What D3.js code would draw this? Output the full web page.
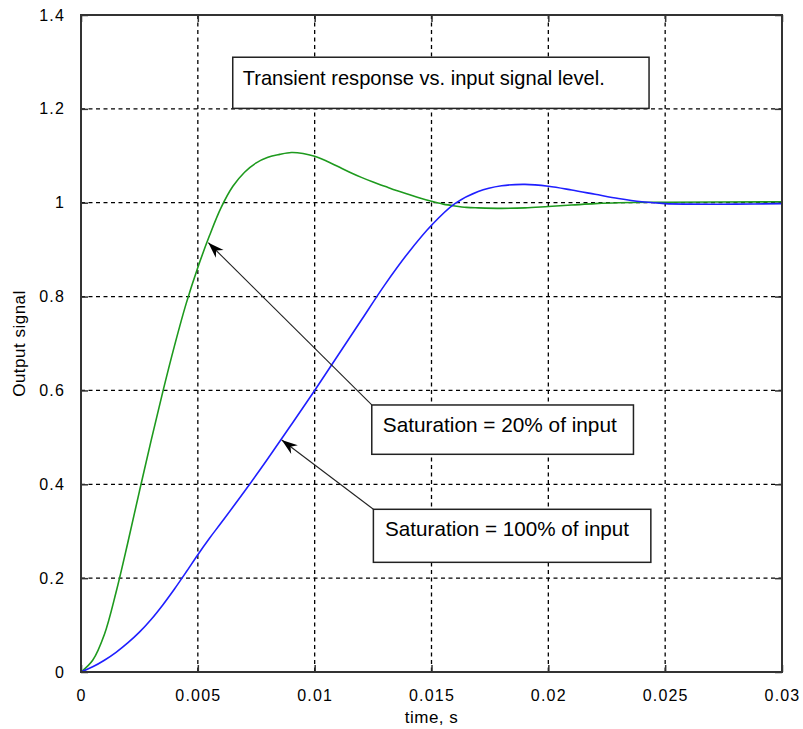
<!DOCTYPE html>
<html><head><meta charset="utf-8">
<script src="https://cdn.jsdelivr.net/npm/d3@7"></script>
<style>
body{margin:0;background:#fff}
text{font-family:"Liberation Sans",Arial,Helvetica,sans-serif;fill:#000}
</style>
</head><body><svg id="c" width="803" height="729"></svg>
<script>
// ---- data ----
const xTicks=[0,0.005,0.01,0.015,0.02,0.025,0.03];
const xTickLabels=["0","0.005","0.01","0.015","0.02","0.025","0.03"];
const yTicks=[0,0.2,0.4,0.6,0.8,1.0,1.2,1.4];
const yTickLabels=["0","0.2","0.4","0.6","0.8","1","1.2","1.4"];

const tGreen=[0,0.0005,0.001,0.0015,0.002,0.0025,0.003,0.0035,0.004,0.0045,0.005,0.0055,0.006,0.0065,0.007,0.0075,0.008,0.0085,0.009,0.0095,0.01,0.0105,0.011,0.0115,0.012,0.0125,0.013,0.0135,0.014,0.0145,0.015,0.0155,0.016,0.0165,0.017,0.018,0.019,0.02,0.021,0.022,0.023,0.025,0.03];
const vGreen=[0,0.025,0.08,0.17,0.275,0.385,0.493,0.597,0.695,0.785,0.862,0.93,0.99,1.035,1.065,1.085,1.097,1.103,1.107,1.105,1.099,1.089,1.077,1.065,1.054,1.044,1.035,1.026,1.018,1.01,1.003,0.997,0.993,0.99,0.989,0.988,0.989,0.992,0.995,0.998,1.0,1.001,1.002];

const tBlue=[0,0.0005,0.001,0.0015,0.002,0.0025,0.003,0.0035,0.004,0.0045,0.005,0.0055,0.006,0.007,0.008,0.009,0.01,0.011,0.012,0.013,0.014,0.015,0.016,0.017,0.018,0.019,0.02,0.021,0.022,0.023,0.024,0.025,0.026,0.028,0.03];
const vBlue=[0,0.011,0.025,0.042,0.062,0.085,0.112,0.143,0.177,0.213,0.25,0.285,0.318,0.385,0.455,0.527,0.6,0.675,0.75,0.825,0.893,0.952,0.998,1.024,1.036,1.039,1.035,1.027,1.018,1.009,1.002,0.998,0.997,0.997,0.998];

const titleText="Transient response vs. input signal level.";
const note20Text="Saturation = 20% of input";
const note100Text="Saturation = 100% of input";
// annotation boxes in data units: [t0, t1, vTop, vBottom]
const titleBox=[0.006494,0.02431,1.310,1.201];
const note20Box=[0.012444,0.023643,0.569,0.4639];
const note100Box=[0.012513,0.024387,0.3467,0.2337];
// arrow tips in data units
const tip20=[0.00545,0.9148];
const tip100=[0.00859,0.4943];

// ---- layout ----
const L=81,R=782,T=15,B=672;
const svg=d3.select("#c");
const x=d3.scaleLinear().domain([0,0.03]).range([L,R]);
const y=d3.scaleLinear().domain([0,1.4]).range([B,T]);

// grid
const grid=svg.append("g");
grid.selectAll("line.gx").data(xTicks.slice(1,-1)).enter().append("line")
  .attr("x1",d=>x(d)).attr("x2",d=>x(d)).attr("y1",T).attr("y2",B)
  .attr("stroke","#000").attr("stroke-width",1.3).attr("stroke-dasharray","4,3.5");
grid.selectAll("line.gy").data(yTicks.slice(1,-1)).enter().append("line")
  .attr("y1",d=>y(d)).attr("y2",d=>y(d)).attr("x1",L).attr("x2",R)
  .attr("stroke","#000").attr("stroke-width",1.3).attr("stroke-dasharray","4,3.5");

// axes (inside ticks, all four sides)
const tickFmt=(arr,labels)=>d=>labels[arr.indexOf(d)];
const axB=d3.axisBottom(x).tickValues(xTicks).tickFormat(tickFmt(xTicks,xTickLabels)).tickSizeInner(-7).tickSizeOuter(0).tickPadding(18);
const axL=d3.axisLeft(y).tickValues(yTicks).tickFormat(tickFmt(yTicks,yTickLabels)).tickSizeInner(-7).tickSizeOuter(0).tickPadding(16);
const axT=d3.axisTop(x).tickValues(xTicks).tickFormat("").tickSizeInner(-7).tickSizeOuter(0);
const axR=d3.axisRight(y).tickValues(yTicks).tickFormat("").tickSizeInner(-7).tickSizeOuter(0);
function styleAx(g){
  g.select(".domain").remove();
  g.selectAll(".tick line").attr("stroke","#333").attr("stroke-width",1.5);
  g.selectAll(".tick text").attr("font-size",16).attr("letter-spacing","1.2px").attr("fill","#000")
   .style("font-family",'"Liberation Sans",Arial,sans-serif');
}
svg.append("g").attr("transform",`translate(0,${B})`).call(axB).call(styleAx);
svg.append("g").attr("transform",`translate(${L},0)`).call(axL).call(styleAx);
svg.append("g").attr("transform",`translate(0,${T})`).call(axT).call(styleAx);
svg.append("g").attr("transform",`translate(${R},0)`).call(axR).call(styleAx);

// curves
const line=d3.line().x(d=>x(d[0])).y(d=>y(d[1])).curve(d3.curveCatmullRom.alpha(0.5));
svg.append("path").datum(tGreen.map((t,i)=>[t,vGreen[i]]))
  .attr("d",line).attr("fill","none").attr("stroke","#1e9a1e").attr("stroke-width",1.6);
svg.append("path").datum(tBlue.map((t,i)=>[t,vBlue[i]]))
  .attr("d",line).attr("fill","none").attr("stroke","#1f1fff").attr("stroke-width",1.6);

// frame
svg.append("rect").attr("x",L).attr("y",T).attr("width",R-L).attr("height",B-T)
  .attr("fill","none").attr("stroke","#333").attr("stroke-width",2);

// annotations
function box(b,txt,baselineOffset,textInset,textWidth){
  const x0=x(b[0]),x1=x(b[1]),y0=y(b[2]),y1=y(b[3]);
  svg.append("rect").attr("x",x0).attr("y",y0).attr("width",x1-x0).attr("height",y1-y0)
    .attr("fill","#fff").attr("stroke","#222").attr("stroke-width",1.5);
  svg.append("text").attr("x",x0+textInset).attr("y",y0+baselineOffset)
    .attr("font-size",21).attr("textLength",textWidth).attr("lengthAdjust","spacingAndGlyphs")
    .text(txt);
  return [x0,y0];
}
function arrow(from,tip){
  const tx=x(tip[0]),ty=y(tip[1]);
  svg.append("line").attr("x1",from[0]).attr("y1",from[1]).attr("x2",tx).attr("y2",ty)
    .attr("stroke","#222").attr("stroke-width",1.1);
  const ang=Math.atan2(from[1]-ty,from[0]-tx);
  const Lh=16,W=5.5,N=11;
  const pts=[[0,0],[Lh,-W],[N,0],[Lh,W]].map(([a,b])=>[tx+a*Math.cos(ang)-b*Math.sin(ang),ty+a*Math.sin(ang)+b*Math.cos(ang)]);
  svg.append("polygon").attr("points",pts.map(p=>p.join(",")).join(" ")).attr("fill","#000");
}
box(titleBox,titleText,27.7,10,362);
const c20=box(note20Box,note20Text,26.7,11,234);
const c100=box(note100Box,note100Text,26.7,11.7,244);
arrow(c20,tip20);
arrow(c100,tip100);

// axis labels
svg.append("text").attr("x",(L+R)/2).attr("y",723).attr("text-anchor","middle")
  .attr("font-size",17).attr("letter-spacing","0.5px").text("time, s");
svg.append("text").attr("transform",`translate(25,${(T+B)/2}) rotate(-90)`).attr("text-anchor","middle")
  .attr("font-size",17).attr("letter-spacing","0.5px").text("Output signal");
</script></body></html>
